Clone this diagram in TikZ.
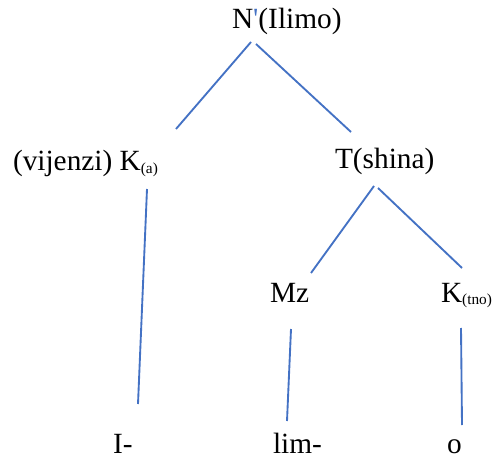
\documentclass[tikz,border=0pt]{standalone}
\usepackage{fontspec}
\setmainfont{Liberation Serif}
\definecolor{lineblue}{HTML}{4472C4}
\newcommand{\subtx}[1]{\raisebox{-2pt}{\fontsize{11.5}{11.5}\selectfont #1}}
\begin{document}
\begin{tikzpicture}[x=0.75pt,y=-0.75pt,
  lbl/.style={anchor=base west,inner sep=0pt,outer sep=0pt,font=\fontsize{22}{22}\selectfont},
  branch/.style={draw=lineblue,line width=1.4pt}]
\useasboundingbox (0,0) rectangle (495,459);
% labels
\node[lbl] (N) at (232,29) {N{\color{lineblue}\textquotesingle}(Ilimo)};
\node[lbl] (K) at (13,171) {(vijenzi) K\subtx{(a)}};
\node[lbl] (T) at (335,169) {T(shina)};
\node[lbl] (Mz) at (270,302) {Mz};
\node[lbl] (Kt) at (441,302) {K\subtx{(tno)}};
\node[lbl] (I) at (113,453) {I-};
\node[lbl] (lim) at (273,453) {lim-};
\node[lbl] (o) at (447,453) {o};
% connector endpoints
\coordinate (NL) at (251,42);
\coordinate (NR) at (256,44);
\coordinate (Kup) at (176,129);
\coordinate (Tup) at (351,132);
\coordinate (Kdn) at (147,189);
\coordinate (Iup) at (138,404);
\coordinate (TL) at (374,186);
\coordinate (TR) at (378,188);
\coordinate (Mzup) at (311,273);
\coordinate (Ktup) at (462,268);
\coordinate (Mzdn) at (291,329);
\coordinate (limup) at (287,421);
\coordinate (Ktdn) at (461,328);
\coordinate (oup) at (462,425);
% branches
\draw[branch] (NL) -- (Kup);
\draw[branch] (NR) -- (Tup);
\draw[branch] (Kdn) -- (Iup);
\draw[branch] (TL) -- (Mzup);
\draw[branch] (TR) -- (Ktup);
\draw[branch] (Mzdn) -- (limup);
\draw[branch] (Ktdn) -- (oup);
\end{tikzpicture}
\end{document}
